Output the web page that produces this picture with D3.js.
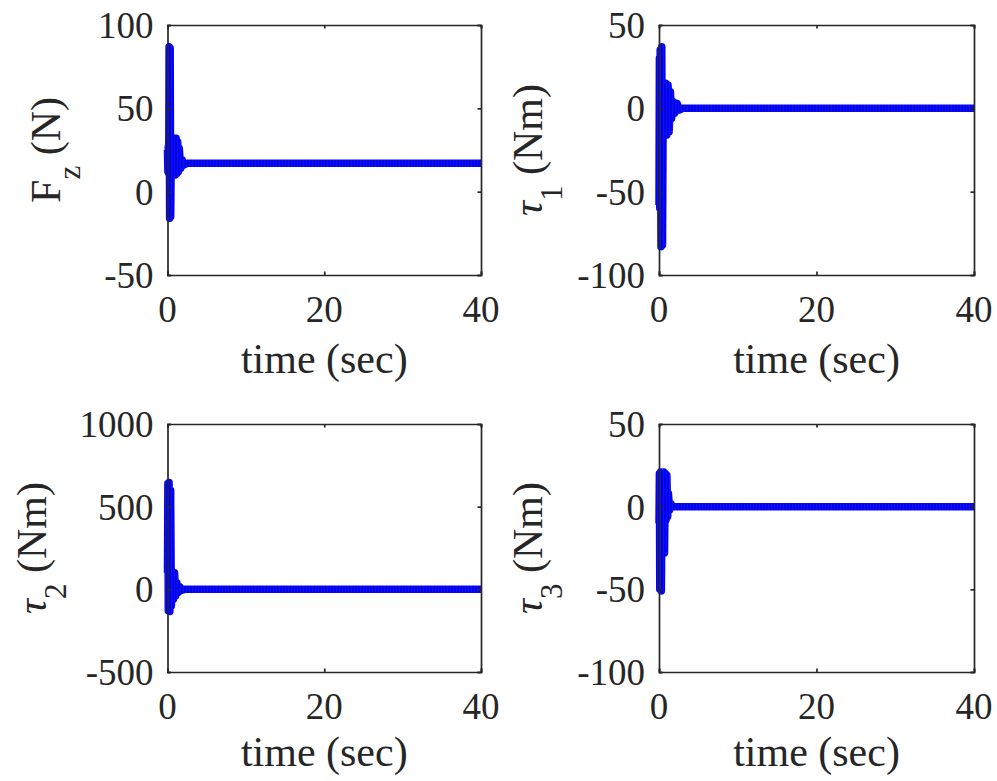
<!DOCTYPE html>
<html>
<head>
<meta charset="utf-8">
<script src="https://cdn.jsdelivr.net/npm/d3@7"></script>
<style>
  html, body { margin: 0; padding: 0; background: #fff; }
  svg { display: block; }
  text { font-family: "Liberation Serif", "Times New Roman", serif; fill: #262626; }
</style>
</head>
<body>
<svg id="chart" width="997" height="781"></svg>
<script>
// ---------------- data ----------------
const xTicks = [0, 20, 40];
const xLabel = "time (sec)";

// Panel 1: F_z (N)
const fzTime   = [0, 0.05, 0.1, 0.15, 0.2, 0.27, 0.34, 0.41, 0.5, 0.6, 0.7, 0.8, 0.9, 1.0, 1.1, 1.2, 1.3, 1.4, 1.5, 1.7, 1.9, 2.1, 2.5, 40];
const fzValues = [25, 12, 27, 11, 87, -16, 86, -15, 30, 11, 28, 10, 32, 10, 32, 11, 30, 12, 26, 14, 19, 16, 17, 17];
const fzTicks  = [-50, 0, 50, 100];

// Panel 2: tau_1 (Nm)
const t1Time   = [0, 0.05, 0.1, 0.15, 0.25, 0.35, 0.45, 0.55, 0.7, 0.85, 1.0, 1.15, 1.3, 1.45, 1.6, 1.8, 2.0, 2.3, 2.6, 3.0, 40];
const t1Values = [-58, 30, -60, 35, -83, 37, -82, 15, -15, 15, -16, 14, -14, 10, -6, 4, -3, 3, -1, 0, 0];
const t1Ticks  = [-100, -50, 0, 50];

// Panel 3: tau_2 (Nm)
const t2Time   = [0, 0.05, 0.1, 0.2, 0.3, 0.4, 0.5, 0.6, 0.75, 0.9, 1.05, 1.2, 1.4, 1.6, 1.9, 2.2, 40];
const t2Values = [100, 640, -130, 646, -134, 600, -100, 110, -60, 100, -40, 40, -20, 15, -5, 0, 0];
const t2Ticks  = [-500, 0, 500, 1000];

// Panel 4: tau_3 (Nm)
const t3Time   = [0, 0.05, 0.1, 0.2, 0.3, 0.4, 0.5, 0.6, 0.7, 0.8, 0.9, 1.0, 1.1, 1.2, 1.35, 1.5, 1.7, 40];
const t3Values = [-10, 20, -50, 21, -51, 20, -28, 21, -28, 20, -8, 19, -6, 8, -2, 2, 0, 0];
const t3Ticks  = [-100, -50, 0, 50];

// ---------------- layout ----------------
const panels = [
  { time: fzTime, values: fzValues, yTicks: fzTicks, yDomain: [-50, 100],
    box: { x0: 167.5, x1: 481, y0: 25, y1: 275 }, sym: "F", symItalic: false, sub: "z", unit: " (N)", labelX: 60, xlabOff: 98 },
  { time: t1Time, values: t1Values, yTicks: t1Ticks, yDomain: [-100, 50],
    box: { x0: 659, x1: 974, y0: 25, y1: 275 }, sym: "\u03C4", symItalic: true, sub: "1", unit: " (Nm)", labelX: 542, xlabOff: 98 },
  { time: t2Time, values: t2Values, yTicks: t2Ticks, yDomain: [-500, 1000],
    box: { x0: 167.5, x1: 481, y0: 424, y1: 672 }, sym: "\u03C4", symItalic: true, sub: "2", unit: " (Nm)", labelX: 46, xlabOff: 94 },
  { time: t3Time, values: t3Values, yTicks: t3Ticks, yDomain: [-100, 50],
    box: { x0: 659, x1: 974, y0: 424, y1: 672 }, sym: "\u03C4", symItalic: true, sub: "3", unit: " (Nm)", labelX: 542, xlabOff: 94 }
];

const tickFont = 37, labelFont = 42, subFont = 31;
const tickLen = 3.5;
const axisColor = "#262626";

const svg = d3.select("#chart");

// subtle vertical hatching like the original rasterised thick line
const defs = svg.append("defs");
const pat = defs.append("pattern")
  .attr("id", "stripe")
  .attr("patternUnits", "userSpaceOnUse")
  .attr("width", 3).attr("height", 10);
pat.append("rect").attr("width", 3).attr("height", 10).attr("fill", "#0000ff");
pat.append("rect").attr("width", 1).attr("height", 10).attr("fill", "#1414d2");

panels.forEach(p => {
  const b = p.box;
  const x = d3.scaleLinear().domain([0, 40]).range([b.x0, b.x1]);
  const y = d3.scaleLinear().domain(p.yDomain).range([b.y1, b.y0]);
  const g = svg.append("g");

  // data line
  const line = d3.line().x((d, i) => x(p.time[i])).y(d => y(d));
  g.append("path")
    .datum(p.values)
    .attr("d", line)
    .attr("fill", "none")
    .attr("stroke", "url(#stripe)")
    .attr("stroke-width", 7.5)
    .attr("stroke-linejoin", "round")
    .attr("stroke-linecap", "butt");

  // axes (inward ticks, box)
  const bottom = d3.axisBottom(x).tickValues(xTicks).tickSize(-tickLen).tickFormat("");
  const top = d3.axisTop(x).tickValues(xTicks).tickSize(-tickLen).tickFormat("");
  const left = d3.axisLeft(y).tickValues(p.yTicks).tickSize(-tickLen).tickFormat("");
  const right = d3.axisRight(y).tickValues(p.yTicks).tickSize(-tickLen).tickFormat("");

  const axes = [
    g.append("g").attr("transform", `translate(0,${b.y1})`).call(bottom),
    g.append("g").attr("transform", `translate(0,${b.y0})`).call(top),
    g.append("g").attr("transform", `translate(${b.x0},0)`).call(left),
    g.append("g").attr("transform", `translate(${b.x1},0)`).call(right)
  ];
  axes.forEach(a => {
    a.selectAll("path.domain").attr("stroke", axisColor).attr("stroke-width", 1.7);
    a.selectAll(".tick line").attr("stroke", axisColor).attr("stroke-width", 1.7);
  });

  // tick labels
  g.selectAll("text.xt").data(xTicks).join("text")
    .attr("class", "xt")
    .attr("x", d => x(d))
    .attr("y", b.y1 + 47)
    .attr("text-anchor", "middle")
    .attr("font-size", tickFont)
    .text(d => d);
  g.selectAll("text.yt").data(p.yTicks).join("text")
    .attr("class", "yt")
    .attr("x", b.x0 - 14)
    .attr("y", d => y(d) + 13)
    .attr("text-anchor", "end")
    .attr("font-size", tickFont)
    .text(d => d);

  // x label
  g.append("text")
    .attr("x", (b.x0 + b.x1) / 2)
    .attr("y", b.y1 + p.xlabOff)
    .attr("text-anchor", "middle")
    .attr("font-size", labelFont)
    .text(xLabel);

  // y label (rotated, with subscript)
  const yl = g.append("text")
    .attr("transform", `translate(${p.labelX},${(b.y0 + b.y1) / 2}) rotate(-90)`)
    .attr("text-anchor", "middle")
    .attr("font-size", labelFont);
  yl.append("tspan").attr("font-style", p.symItalic ? "italic" : "normal").text(p.sym);
  yl.append("tspan").attr("font-size", subFont).attr("dy", 20).text(p.sub);
  yl.append("tspan").attr("dy", -20).text(p.unit);
});
</script>
</body>
</html>
